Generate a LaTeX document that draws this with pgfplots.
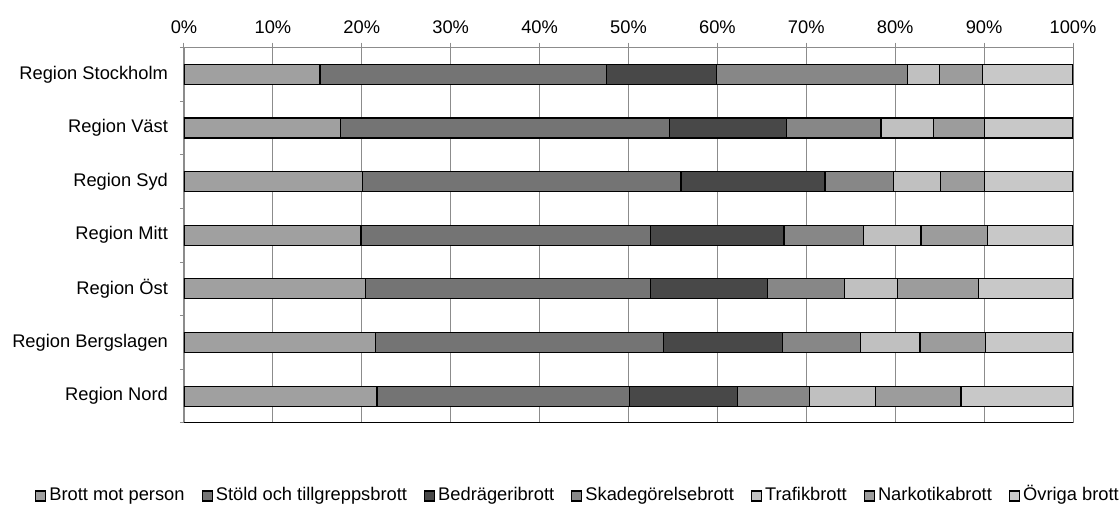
\documentclass[border=0pt]{standalone}
\usepackage{fontspec}
\setmainfont{Liberation Sans}
\usepackage{pgfplots}
\usepackage{pgfplotstable}
\pgfplotsset{compat=1.18}

\definecolor{cPerson}{HTML}{A0A0A0}
\definecolor{cStold}{HTML}{747474}
\definecolor{cBedr}{HTML}{484848}
\definecolor{cSkad}{HTML}{878787}
\definecolor{cTraf}{HTML}{C0C0C0}
\definecolor{cNark}{HTML}{9C9C9C}
\definecolor{cOvr}{HTML}{C8C8C8}
\definecolor{gridgray}{HTML}{8C8C8C}

% andel per brottskategori (%), en rad per region
\pgfplotstableread{
y s1   s2   s3   s4   s5  s6  s7
0 15.3 32.2 12.4 21.5 3.6 4.8 10.2
1 17.6 37.0 13.2 10.6 5.9 5.7 10.0
2 20.1 35.8 16.2 7.7  5.3 4.9 10.0
3 19.9 32.6 15.0 8.9  6.5 7.5 9.6
4 20.4 32.1 13.1 8.7  6.0 9.1 10.6
5 21.5 32.4 13.4 8.8  6.7 7.4 9.8
6 21.7 28.4 12.2 8.1  7.4 9.6 12.6
}\regdata

\begin{document}
\begin{tikzpicture}
\begin{axis}[name=ax,
    xbar stacked, scale only axis, width=444.5pt, height=187.75pt,
    xmin=0, xmax=100, ymin=-0.5, ymax=6.5, y dir=reverse,
    bar width=10pt,
    xtick={0,10,...,100}, xticklabel={\pgfmathprintnumber{\tick}\%},
    xtick pos=right, xticklabel pos=right,
    ytick={0,...,6},
    yticklabels={Region Stockholm,Region Väst,Region Syd,Region Mitt,Region Öst,Region Bergslagen,Region Nord},
    ytick pos=left, major y tick style={draw=none},
    minor ytick={-0.5,0.5,...,6.5},
    tick align=outside, major tick length=2.5pt, minor tick length=2pt,
    tick style={color=gridgray, line width=0.5pt},
    xmajorgrids, major grid style={gridgray, line width=0.5pt},
    axis line style={draw=none},
    every tick label/.append style={font=\fontsize{9.15}{11}\selectfont, text=black},
    yticklabel style={xshift=-2pt},
    xticklabel style={yshift=0.8pt},
    /pgf/number format/assume math mode=true,
    legend columns=-1,
    legend style={draw=none, at={(0.442,-0.19)}, anchor=center,
        font=\fontsize{9.15}{11}\selectfont,
        cells={anchor=base west},
        nodes={inner xsep=0pt},
        /tikz/every odd column/.append style={column sep=1.5pt},
        /tikz/every even column/.append style={column sep=8.5pt}},
    legend image code/.code={\draw[#1, line width=0.6pt] (0pt,-0.3pt) rectangle (5pt,4.7pt);},
    every axis plot/.append style={draw=black, line width=0.6pt},
]
\addplot[fill=cPerson] table[x=s1, y=y] {\regdata};
\addplot[fill=cStold]  table[x=s2, y=y] {\regdata};
\addplot[fill=cBedr]   table[x=s3, y=y] {\regdata};
\addplot[fill=cSkad]   table[x=s4, y=y] {\regdata};
\addplot[fill=cTraf]   table[x=s5, y=y] {\regdata};
\addplot[fill=cNark]   table[x=s6, y=y] {\regdata};
\addplot[fill=cOvr]    table[x=s7, y=y] {\regdata};
\legend{Brott mot person,Stöld och tillgreppsbrott,Bedrägeribrott,Skadegörelsebrott,Trafikbrott,Narkotikabrott,Övriga brott}
\draw[black, line width=0.5pt] (axis description cs:0,0) -- (axis description cs:1,0) -- (axis description cs:1,1);
\draw[gridgray, line width=0.6pt] (axis description cs:0,0) -- (axis description cs:0,1) -- (axis description cs:1,1);
\end{axis}
\pgfresetboundingbox
\path[use as bounding box] (ax.south west) ++(-92pt,-41.5pt) rectangle ++(560pt,253pt);
\end{tikzpicture}
\end{document}
